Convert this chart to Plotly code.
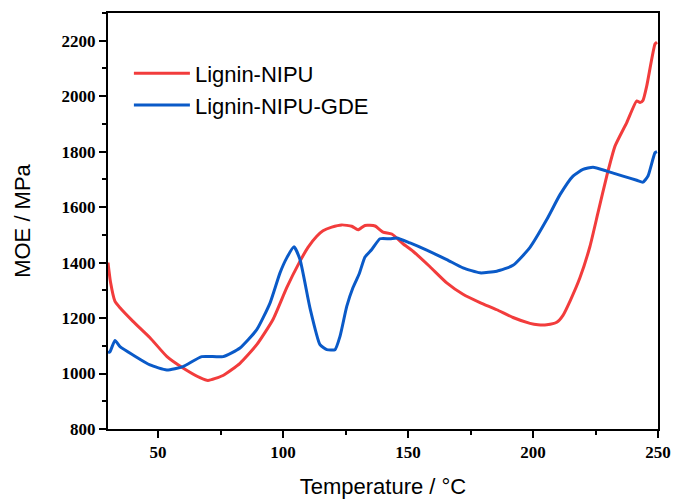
import plotly.graph_objects as go

# Lignin-NIPU
t_red = [30, 31, 32.8, 34.8, 40, 46.8, 53.6, 60, 66.8, 70, 76, 82.8, 89.5, 96, 101.5, 106.5, 110,
         113.5, 116, 119.5, 123.5, 127.5, 130, 132.8, 136.8, 140, 143.5, 148, 152, 158.8, 165.5,
         172, 178.8, 185.5, 192, 198.8, 202, 205.5, 209.5, 212, 215, 218.8, 222.8, 226, 229.5,
         232.8, 237.5, 241.5, 242.8, 244, 245.5, 248.8, 249.6]
moe_red = [1400, 1330, 1260, 1237, 1188, 1129, 1061, 1020, 985, 975, 993, 1037, 1104, 1195, 1310,
           1400, 1455, 1495, 1515, 1528, 1536, 1531, 1518, 1534, 1532, 1510, 1503, 1468, 1441, 1385,
           1327, 1286, 1256, 1230, 1202, 1181, 1176, 1176, 1185, 1210, 1265, 1346, 1459, 1580, 1712,
           1820, 1905, 1983, 1977, 1985, 2037, 2188, 2195]

# Lignin-NIPU-GDE
t_blue = [30, 30.8, 32.8, 34.8, 40, 46.8, 53.5, 60, 67.5, 76, 82.8, 89.5, 94.8, 98.8, 101.5, 104.4,
          106.8, 110.8, 114.8, 117.5, 120.8, 122.8, 125.5, 128, 130.5, 132.8, 135.5, 138.8, 142.8,
          145.5, 150.8, 157.5, 165.5, 172, 178.8, 185.5, 192, 198.8, 205.5, 210.8, 216, 220, 224,
          229.5, 236, 241.5, 244, 246, 248.8, 249.6]
moe_blue = [1075, 1079, 1119, 1097, 1067, 1031, 1013, 1025, 1061, 1061, 1092, 1158, 1254, 1363, 1417,
            1457, 1411, 1236, 1104, 1086, 1086, 1134, 1242, 1310, 1360, 1420, 1447, 1486, 1486,
            1489, 1471, 1445, 1411, 1381, 1363, 1369, 1390, 1455, 1555, 1645, 1712, 1736, 1744,
            1730, 1712, 1697, 1690, 1712, 1796, 1800]

names = ["Lignin-NIPU", "Lignin-NIPU-GDE"]
colors = ["#F23C3C", "#0A5AC8"]

fig = go.Figure()
fig.add_trace(go.Scatter(x=t_red, y=moe_red, mode="lines", name=names[0],
                         line=dict(color=colors[0], width=3, shape="spline", smoothing=0.5)))
fig.add_trace(go.Scatter(x=t_blue, y=moe_blue, mode="lines", name=names[1],
                         line=dict(color=colors[1], width=3, shape="spline", smoothing=0.5)))

tickfont = dict(family="Liberation Serif", size=17, color="black", weight="bold")
titlefont = dict(family="Liberation Sans", size=22, color="black")

fig.update_layout(
    width=674, height=499,
    margin=dict(l=108, r=16, t=13, b=70),
    plot_bgcolor="white", paper_bgcolor="white",
    showlegend=True,
    legend=dict(x=0.038, y=0.905, xanchor="left", yanchor="top",
                font=dict(family="Liberation Sans", size=22, color="black"),
                bgcolor="rgba(0,0,0,0)", itemwidth=56, tracegroupgap=0),
)
fig.update_xaxes(
    range=[30, 250], tick0=0, dtick=50, showgrid=False, zeroline=False,
    showline=True, linecolor="black", linewidth=2, mirror=True,
    ticks="outside", ticklen=7, tickwidth=2, tickcolor="black",
    minor=dict(ticks="outside", ticklen=4, tickwidth=2, tickcolor="black", dtick=25, tick0=0, showgrid=False),
    tickfont=tickfont, ticklabeloverflow="allow",
    title=dict(text="Temperature / °C", font=titlefont, standoff=27),
    automargin=False,
)
fig.update_yaxes(
    range=[800, 2300], tick0=800, dtick=200, showgrid=False, zeroline=False,
    showline=True, linecolor="black", linewidth=2, mirror=True,
    ticks="outside", ticklen=7, tickwidth=2, tickcolor="black",
    minor=dict(ticks="outside", ticklen=4, tickwidth=2, tickcolor="black", dtick=100, tick0=800, showgrid=False),
    tickfont=tickfont,
    title=dict(text="MOE / MPa", font=titlefont, standoff=25),
    automargin=False,
)

# remove the page's default body margin so the 674x499 figure fills the window exactly
page_css = ("document.body.style.margin='0';"
            "document.body.style.padding='0';"
            "document.documentElement.style.overflow='hidden';")
fig.write_html("out.html", post_script=page_css, config={"displayModeBar": False})
